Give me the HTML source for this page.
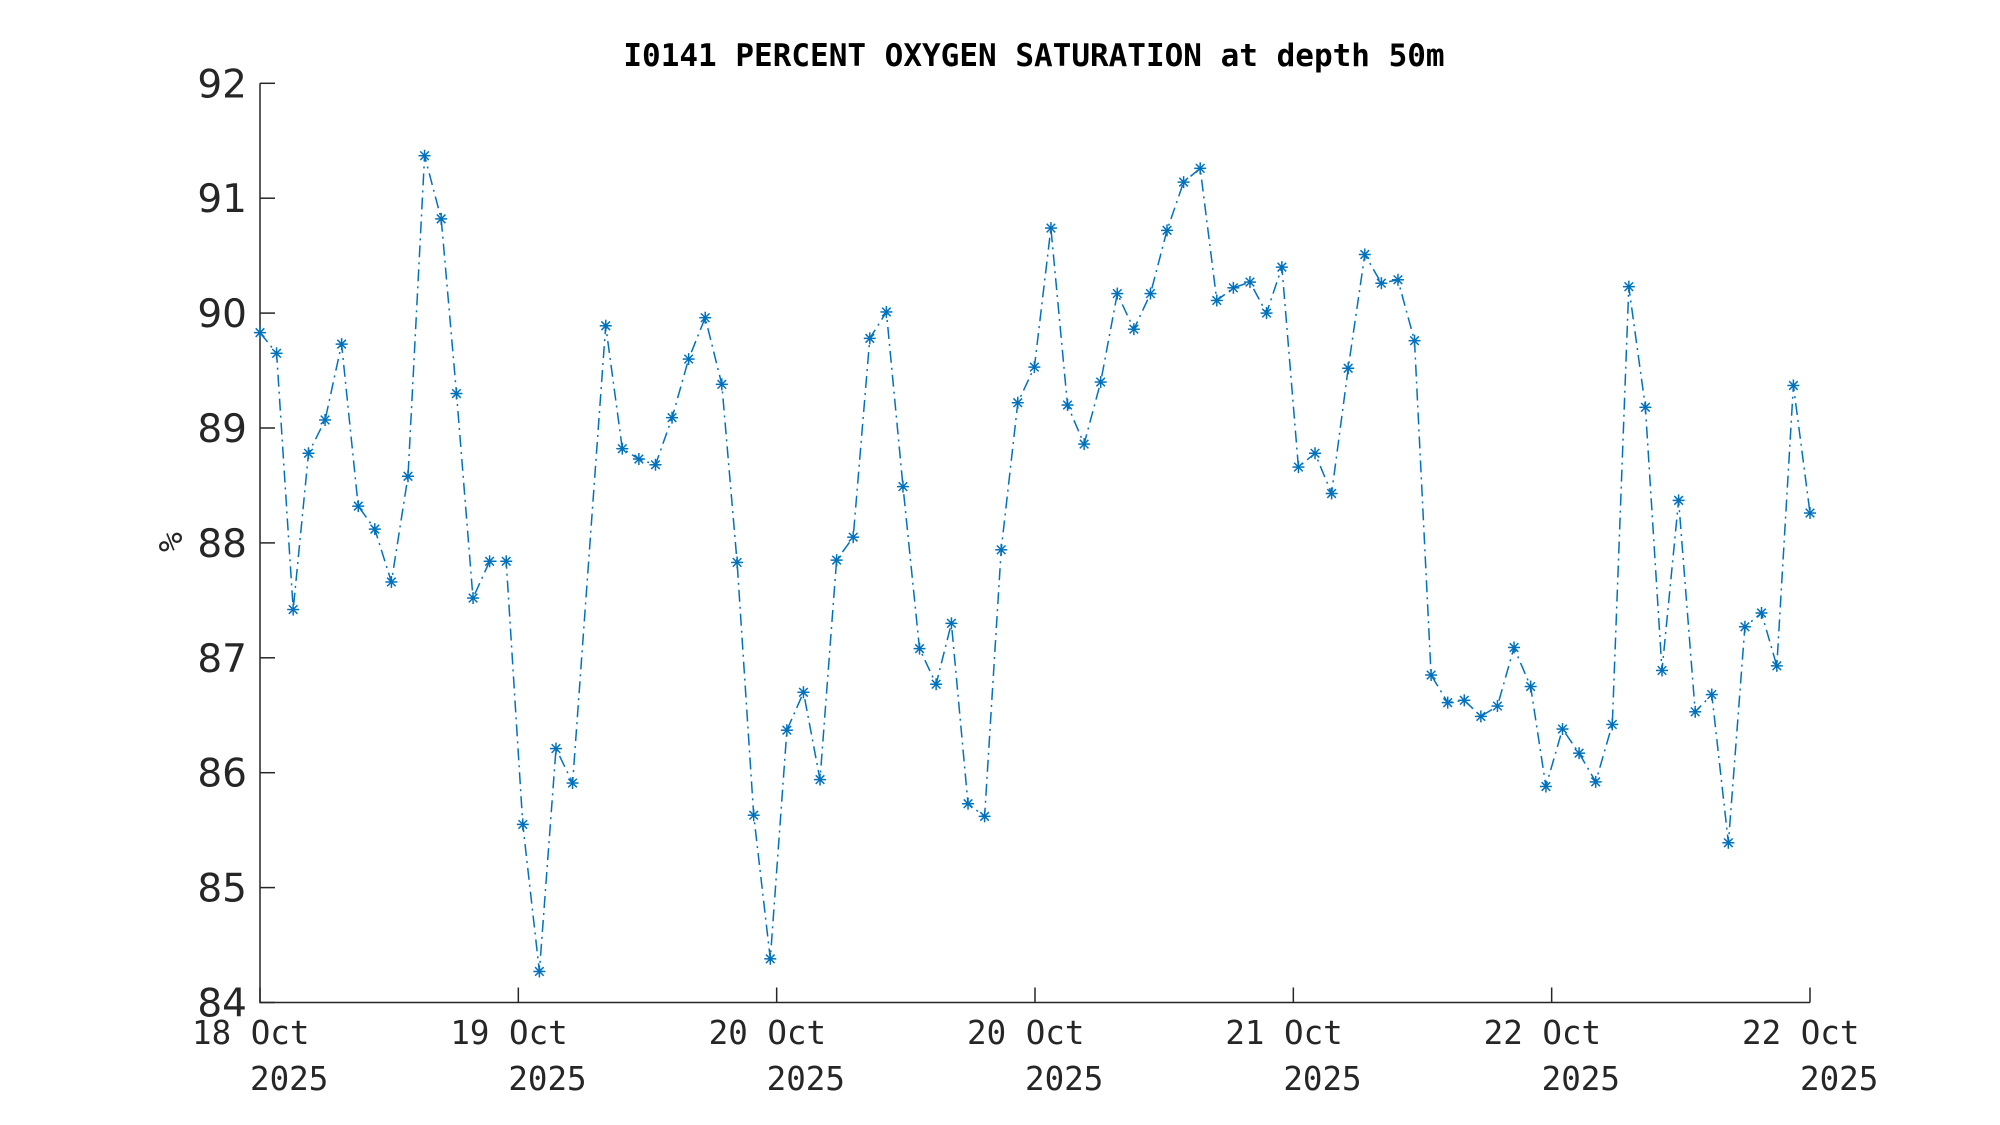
<!DOCTYPE html>
<html><head><meta charset="utf-8"><style>
html,body{margin:0;padding:0;background:#fff;}
svg{display:block}
</style></head><body>
<svg id="s" xmlns="http://www.w3.org/2000/svg" width="2000" height="1125" viewBox="0 0 2000 1125">
<rect width="2000" height="1125" fill="#fff"/>
<text x="1034" y="66" text-anchor="middle" font-family="'DejaVu Sans Mono','Liberation Mono',monospace" font-weight="bold" font-size="31" fill="#000">I0141 PERCENT OXYGEN SATURATION at depth 50m</text>
<text transform="translate(182,542) rotate(-90)" text-anchor="middle" font-family="'DejaVu Sans Mono','Liberation Mono',monospace" font-size="33" fill="#262626">%</text>
<g id="ax" stroke="#262626" stroke-width="1.5" fill="none"></g>
<g id="lab" fill="#262626"></g>
<polyline id="ln" fill="none" stroke="#0072BD" stroke-width="1.5" stroke-dasharray="12,5,2,5"/>
<g id="mk" stroke="#0072BD" stroke-width="1.5"></g>
</svg>
<script>
var L=260,R=1810,T=83.3,B=1002.5;
function X(dx){return L+(dx-204)*(R-L)/1215;}
function Y(v){return B-(v-84)*(B-T)/8;}
var d=[[204,89.83],[217,89.65],[230,87.42],[242,88.78],[255,89.07],[268,89.73],[281,88.32],[294,88.12],[307,87.66],[320,88.58],[333,91.37],[346,90.82],[358,89.30],[371,87.52],[384,87.84],[397,87.84],[410,85.55],[423,84.27],[436,86.21],[449,85.91],[475,89.89],[488,88.82],[501,88.73],[514,88.68],[527,89.09],[540,89.60],[553,89.96],[566,89.38],[578,87.83],[591,85.63],[604,84.38],[617,86.37],[630,86.70],[643,85.94],[656,87.85],[669,88.05],[682,89.78],[695,90.01],[708,88.49],[721,87.08],[734,86.77],[746,87.30],[759,85.73],[772,85.62],[785,87.94],[798,89.22],[811,89.53],[824,90.74],[837,89.20],[850,88.86],[863,89.40],[876,90.17],[889,89.86],[902,90.17],[915,90.72],[928,91.14],[941,91.26],[954,90.11],[967,90.22],[980,90.27],[993,90.00],[1005,90.40],[1018,88.66],[1031,88.78],[1044,88.43],[1057,89.52],[1070,90.51],[1083,90.26],[1096,90.29],[1109,89.76],[1122,86.85],[1135,86.61],[1148,86.63],[1161,86.49],[1174,86.58],[1187,87.09],[1200,86.75],[1212,85.88],[1225,86.38],[1238,86.17],[1251,85.92],[1264,86.42],[1277,90.23],[1290,89.18],[1303,86.89],[1316,88.37],[1329,86.53],[1342,86.68],[1355,85.39],[1368,87.27],[1381,87.39],[1393,86.93],[1406,89.37],[1419,88.26]];
var pts=[],mk="";
d.forEach(function(p){var x=X(p[0]),y=Y(p[1]);pts.push(x.toFixed(1)+","+y.toFixed(1));
var r=6,s=4.3;
mk+='<line x1="'+(x-r)+'" y1="'+y+'" x2="'+(x+r)+'" y2="'+y+'"/><line x1="'+x+'" y1="'+(y-r)+'" x2="'+x+'" y2="'+(y+r)+'"/><line x1="'+(x-s)+'" y1="'+(y-s)+'" x2="'+(x+s)+'" y2="'+(y+s)+'"/><line x1="'+(x-s)+'" y1="'+(y+s)+'" x2="'+(x+s)+'" y2="'+(y-s)+'"/>';});
document.getElementById("ln").setAttribute("points",pts.join(" "));
document.getElementById("mk").innerHTML=mk;
var ax='<polyline points="'+L+','+T+' '+L+','+B+' '+R+','+B+'"/>';
var lab="";
for(var v=84;v<=92;v++){var y=Y(v);ax+='<line x1="'+L+'" y1="'+y+'" x2="'+(L+15)+'" y2="'+y+'"/>';
lab+='<text x="247" y="'+(y+14)+'" text-anchor="end" font-family="\'DejaVu Sans\',\'Liberation Sans\',sans-serif" font-size="39">'+v+'</text>';}
var xl=["18 Oct","19 Oct","20 Oct","20 Oct","21 Oct","22 Oct","22 Oct"];
for(var i=0;i<7;i++){var x=L+i*(R-L)/6;ax+='<line x1="'+x+'" y1="'+B+'" x2="'+x+'" y2="'+(B-15)+'"/>';
var f='font-family="\'DejaVu Sans Mono\',\'Liberation Mono\',monospace" font-size="32.5" text-anchor="start"';
lab+='<text x="'+(x-68)+'" y="1044" '+f+'>'+xl[i]+'</text><text x="'+(x-10)+'" y="1090" '+f+'>2025</text>';}
document.getElementById("ax").innerHTML=ax;
document.getElementById("lab").innerHTML=lab;
</script>
</body></html>
